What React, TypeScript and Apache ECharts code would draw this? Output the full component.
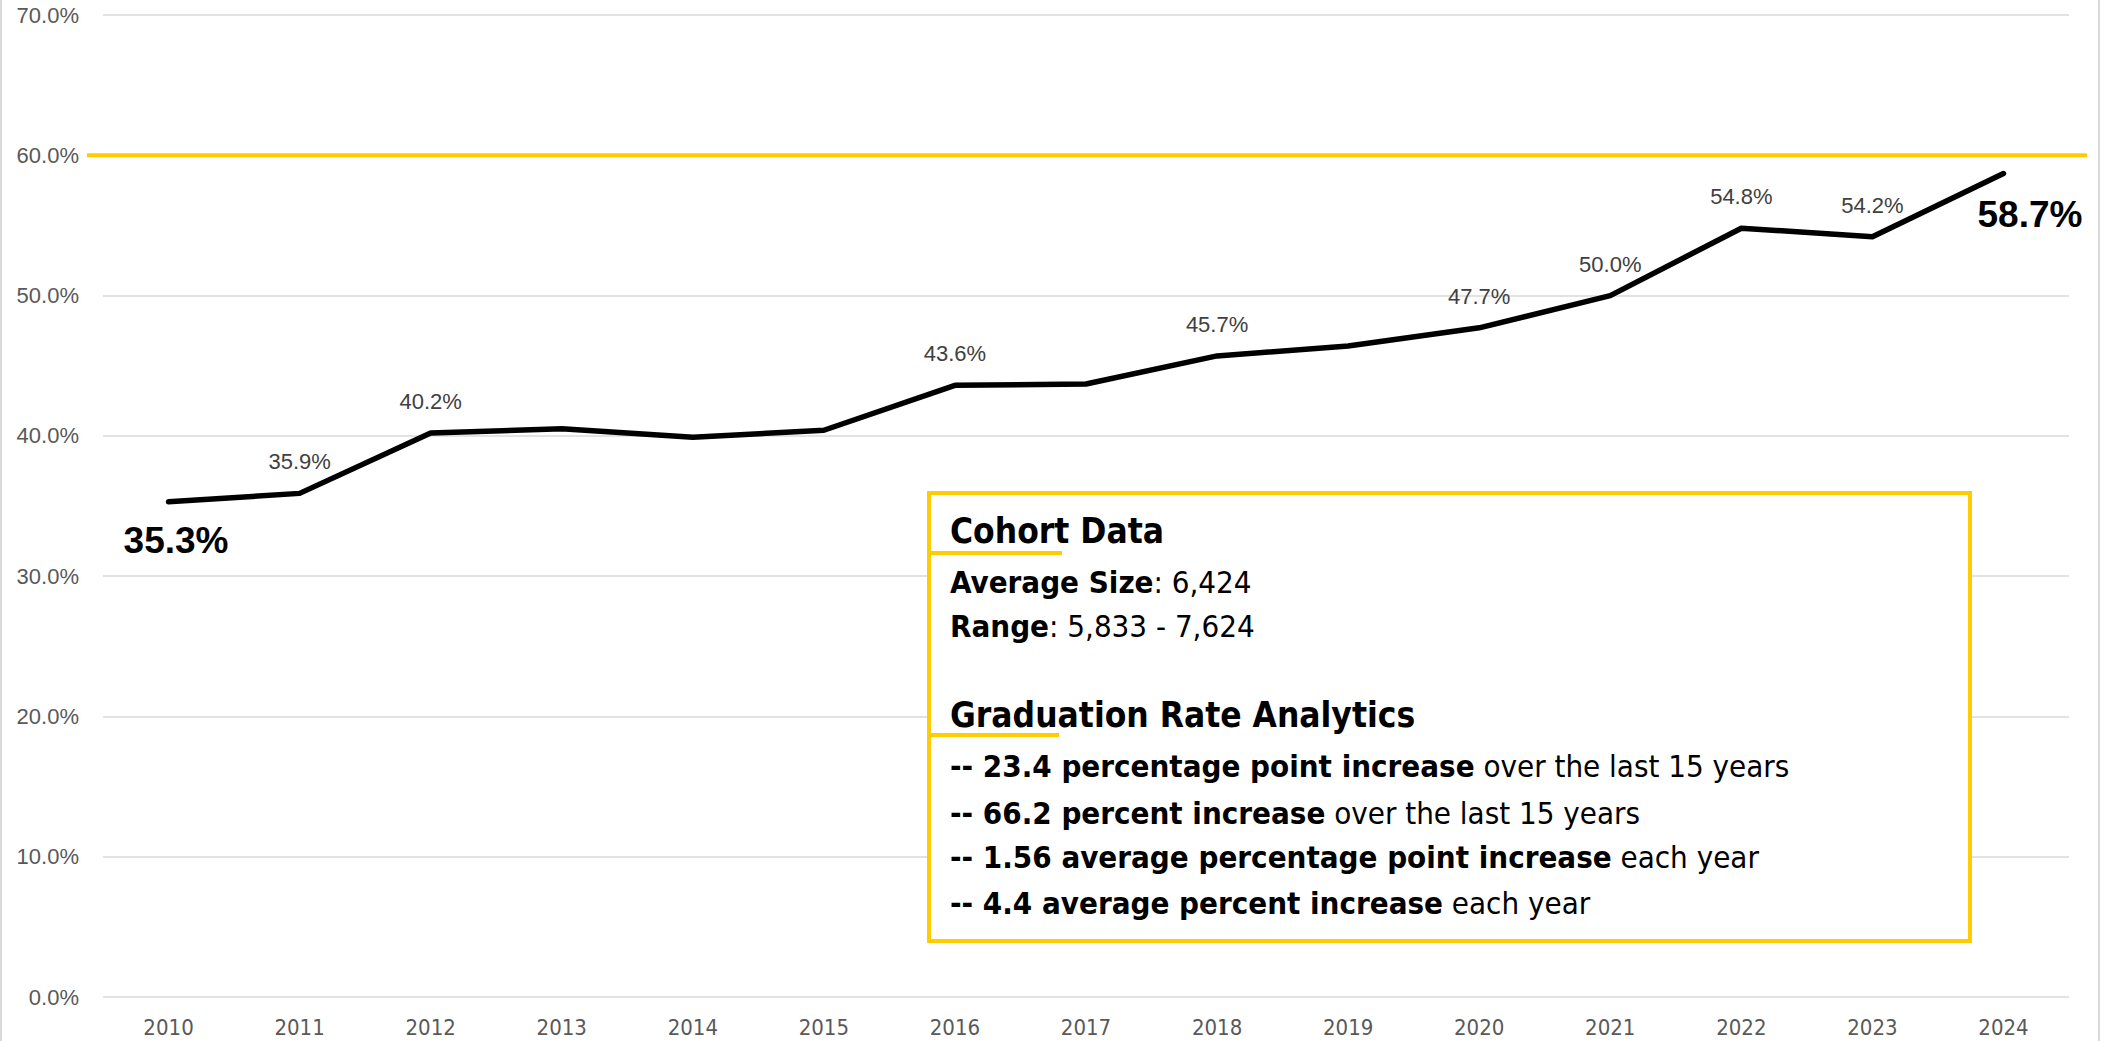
import React, { useEffect, useRef } from "react";
import * as echarts from "echarts";

const years = ["2010","2011","2012","2013","2014","2015","2016","2017","2018","2019","2020","2021","2022","2023","2024"];
const rates = [35.3, 35.9, 40.2, 40.5, 39.9, 40.4, 43.6, 43.7, 45.7, 46.4, 47.7, 50.0, 54.8, 54.2, 58.7];
const labeledYears = ["2011","2012","2016","2018","2020","2021","2022","2023"];
const targetRate = 60;
const yTicks = { min: 0, max: 70, interval: 10 };

const cohortTitle = "Cohort Data";
const cohortLines = [
  ["Average Size", ": 6,424"],
  ["Range", ": 5,833 - 7,624"],
];
const analyticsTitle = "Graduation Rate Analytics";
const analyticsLines = [
  ["-- 23.4 percentage point increase", " over the last 15 years"],
  ["-- 66.2 percent increase", " over the last 15 years"],
  ["-- 1.56 average percentage point increase", " each year"],
  ["-- 4.4 average percent increase", " each year"],
];

const NARROW = "'DejaVu Sans Condensed', 'Liberation Sans Narrow', 'Noto Sans', sans-serif";
const ARIAL = "'Liberation Sans', Arial, sans-serif";
const GOLD = "#FFCC00";

export default function App() {
  const ref = useRef<HTMLDivElement>(null);
  useEffect(() => {
    if (!ref.current) return;
    const chart = echarts.init(ref.current, undefined, { renderer: "svg" });
    const last = rates.length - 1;
    const data = rates.map((v, i) => {
      if (i === 0 || i === last) {
        return {
          value: v,
          label: {
            show: true,
            position: i === 0 ? [8, 39] : [27, 41],
            align: "center",
            verticalAlign: "middle",
            fontSize: 37,
            fontWeight: "bold",
            fontFamily: ARIAL,
            color: "#000",
            formatter: (p: any) => Number(p.value).toFixed(1) + "%",
          },
        };
      }
      const show = labeledYears.includes(years[i]);
      return {
        value: v,
        label: {
          show,
          position: "top",
          distance: 20,
          fontSize: 22,
          fontFamily: ARIAL,
          color: "#404040",
          formatter: (p: any) => Number(p.value).toFixed(1) + "%",
        },
      };
    });

    const bodySize = 31;
    const headSize = 35;
    const textX = 950;
    const rich = {
      b: { fontWeight: "bold", fontSize: bodySize, fontFamily: NARROW, fill: "#000" },
      n: { fontWeight: "normal", fontSize: bodySize, fontFamily: NARROW, fill: "#000" },
    };
    const mkLine = (pair: string[], y: number) => ({
      type: "text",
      x: textX,
      y,
      style: {
        text: `{b|${pair[0]}}{n|${pair[1]}}`,
        rich,
        fill: "#000",
        fontSize: bodySize,
        fontFamily: NARROW,
        verticalAlign: "middle",
        align: "left",
      },
      z: 100,
    });
    const mkHead = (t: string, y: number) => ({
      type: "text",
      x: textX,
      y,
      style: {
        text: t,
        fill: "#000",
        fontSize: headSize,
        fontWeight: "bold",
        fontFamily: NARROW,
        verticalAlign: "middle",
        align: "left",
      },
      z: 100,
    });

    const cohortY = [582, 626];
    const analyticsY = [766, 813, 857, 903];

    chart.setOption({
      animation: false,
      backgroundColor: "#fff",
      grid: [
        { left: 103, right: 38, top: 15, bottom: 44, containLabel: false },
        { left: 87, right: 20, top: 15, bottom: 44, containLabel: false },
      ],
      xAxis: [
        {
          type: "category",
          gridIndex: 0,
          data: years,
          boundaryGap: true,
          axisLine: { show: false },
          axisTick: { show: false },
          axisLabel: { color: "#595959", fontSize: 22, lineHeight: 21, fontFamily: NARROW, margin: 20 },
        },
        { type: "value", gridIndex: 1, min: 0, max: 1, show: false },
      ],
      yAxis: [
        {
          type: "value",
          gridIndex: 0,
          min: yTicks.min,
          max: yTicks.max,
          interval: yTicks.interval,
          axisLine: { show: false },
          axisTick: { show: false },
          splitLine: { lineStyle: { color: "#D9D9D9", width: 1.5 } },
          axisLabel: {
            color: "#595959",
            fontSize: 22,
            fontFamily: ARIAL,
            margin: 24,
            formatter: (v: number) => v.toFixed(1) + "%",
          },
        },
        { type: "value", gridIndex: 1, min: yTicks.min, max: yTicks.max, show: false },
      ],
      series: [
        {
          type: "line",
          xAxisIndex: 1,
          yAxisIndex: 1,
          data: [[0, targetRate], [1, targetRate]],
          symbol: "none",
          lineStyle: { color: GOLD, width: 4 },
          silent: true,
          z: 1,
        },
        {
          type: "line",
          xAxisIndex: 0,
          yAxisIndex: 0,
          data,
          symbol: "circle",
          symbolSize: 1,
          showSymbol: true,
          itemStyle: { color: "rgba(0,0,0,0)" },
          lineStyle: { color: "#000", width: 5.5, join: "round", cap: "round" },
          labelLayout: { hideOverlap: false },
          z: 3,
        },
      ],
      graphic: [
        {
          type: "rect",
          shape: { x: 1, y: -10, width: 2098, height: 1070 },
          style: { fill: "none", stroke: "#D9D9D9", lineWidth: 2 },
          silent: true,
          z: 0,
        },
        {
          type: "rect",
          shape: { x: 929, y: 493, width: 1041, height: 448 },
          style: { fill: "#fff", stroke: GOLD, lineWidth: 4 },
          z: 90,
        },
        { type: "rect", shape: { x: 929, y: 551, width: 133, height: 4 }, style: { fill: GOLD }, z: 95 },
        { type: "rect", shape: { x: 929, y: 733, width: 130, height: 4 }, style: { fill: GOLD }, z: 95 },
        mkHead(cohortTitle, 531),
        ...cohortLines.map((p, i) => mkLine(p, cohortY[i])),
        mkHead(analyticsTitle, 715),
        ...analyticsLines.map((p, i) => mkLine(p, analyticsY[i])),
      ],
    });
    return () => chart.dispose();
  }, []);
  return (
    <div
      ref={ref}
      style={{ position: "absolute", left: 0, top: 0, width: 2107, height: 1041 }}
    />
  );
}
